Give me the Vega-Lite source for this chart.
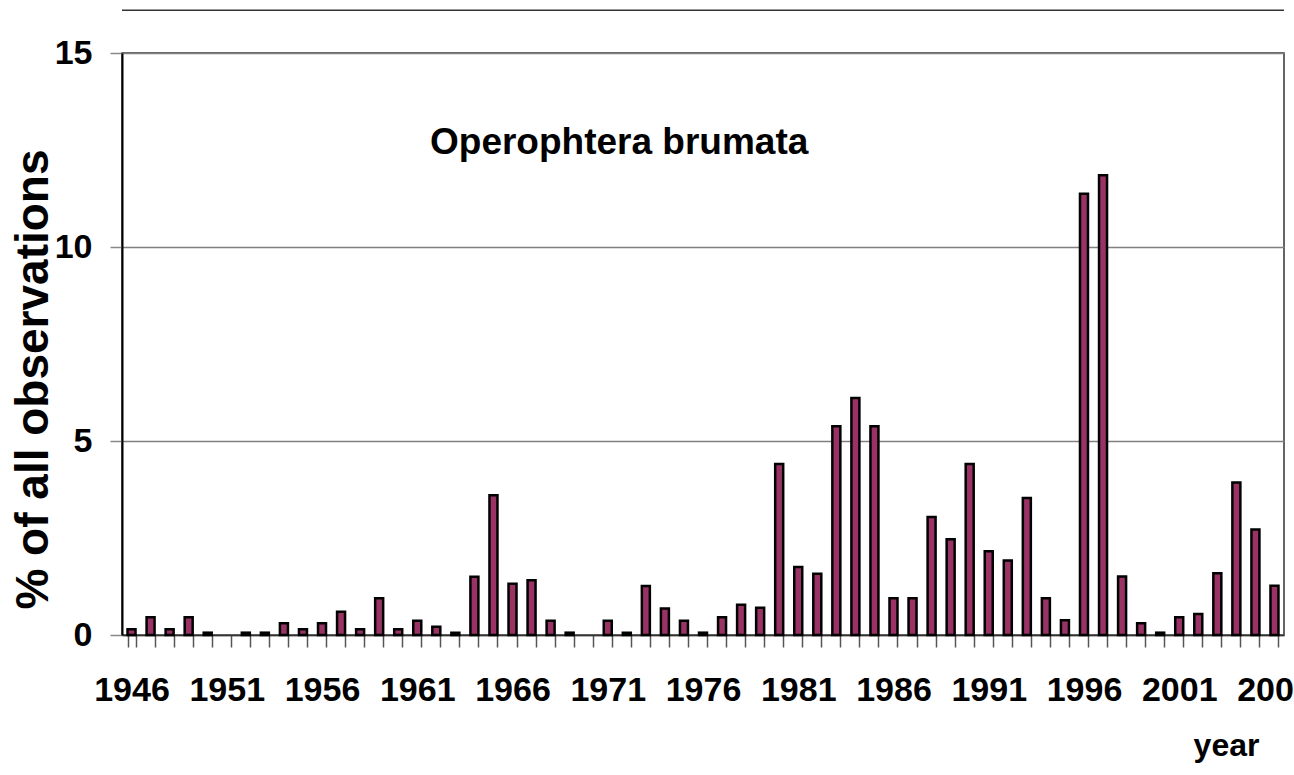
{
  "$schema": "https://vega.github.io/schema/vega-lite/v6.json",
  "width": 1162,
  "height": 582,
  "autosize": {"type": "none"},
  "padding": {"left": 122, "top": 53, "right": 10, "bottom": 140},
  "background": "white",
  "config": {"view": {"stroke": "#333333", "strokeWidth": 1.5}, "font": "Liberation Sans"},
  "title": {"text": "Operophtera brumata", "anchor": "start", "frame": "group", "dx": 308, "dy": 181, "offset": 0, "baseline": "alphabetic", "font": "Liberation Sans", "fontSize": 37, "fontWeight": "bold", "color": "black"},
  "data": {"values": [
    {"year": 1946, "pct": 0.15}, {"year": 1947, "pct": 0.46}, {"year": 1948, "pct": 0.15}, {"year": 1949, "pct": 0.46},
    {"year": 1950, "pct": 0.06}, {"year": 1951, "pct": 0}, {"year": 1952, "pct": 0.06}, {"year": 1953, "pct": 0.06},
    {"year": 1954, "pct": 0.3}, {"year": 1955, "pct": 0.15}, {"year": 1956, "pct": 0.3}, {"year": 1957, "pct": 0.6},
    {"year": 1958, "pct": 0.15}, {"year": 1959, "pct": 0.95}, {"year": 1960, "pct": 0.15}, {"year": 1961, "pct": 0.37},
    {"year": 1962, "pct": 0.21}, {"year": 1963, "pct": 0.06}, {"year": 1964, "pct": 1.5}, {"year": 1965, "pct": 3.6},
    {"year": 1966, "pct": 1.32}, {"year": 1967, "pct": 1.41}, {"year": 1968, "pct": 0.37}, {"year": 1969, "pct": 0.06},
    {"year": 1970, "pct": 0}, {"year": 1971, "pct": 0.37}, {"year": 1972, "pct": 0.06}, {"year": 1973, "pct": 1.26},
    {"year": 1974, "pct": 0.68}, {"year": 1975, "pct": 0.37}, {"year": 1976, "pct": 0.06}, {"year": 1977, "pct": 0.46},
    {"year": 1978, "pct": 0.78}, {"year": 1979, "pct": 0.7}, {"year": 1980, "pct": 4.41}, {"year": 1981, "pct": 1.75},
    {"year": 1982, "pct": 1.58}, {"year": 1983, "pct": 5.38}, {"year": 1984, "pct": 6.11}, {"year": 1985, "pct": 5.38},
    {"year": 1986, "pct": 0.95}, {"year": 1987, "pct": 0.95}, {"year": 1988, "pct": 3.04}, {"year": 1989, "pct": 2.47},
    {"year": 1990, "pct": 4.41}, {"year": 1991, "pct": 2.16}, {"year": 1992, "pct": 1.92}, {"year": 1993, "pct": 3.53},
    {"year": 1994, "pct": 0.95}, {"year": 1995, "pct": 0.38}, {"year": 1996, "pct": 11.37}, {"year": 1997, "pct": 11.85},
    {"year": 1998, "pct": 1.51}, {"year": 1999, "pct": 0.3}, {"year": 2000, "pct": 0.06}, {"year": 2001, "pct": 0.46},
    {"year": 2002, "pct": 0.54}, {"year": 2003, "pct": 1.59}, {"year": 2004, "pct": 3.93}, {"year": 2005, "pct": 2.72},
    {"year": 2006, "pct": 1.27}
  ]},
  "layer": [
    {
      "mark": {"type": "bar", "fill": "#993366", "stroke": "black", "strokeWidth": 2.5},
      "encoding": {
        "x": {
          "field": "year", "type": "ordinal",
          "scale": {"paddingInner": 0.58, "paddingOuter": 0.29},
          "axis": {
            "title": "year", "titleFont": "Liberation Sans", "titleFontSize": 32, "titleFontWeight": "bold", "titleColor": "black",
            "titleX": 1104, "titleY": 120, "titleAlign": "center", "titleBaseline": "alphabetic",
            "labelExpr": "(datum.value - 1946) % 5 == 0 ? datum.label : ''",
            "labelAngle": 0, "labelFont": "Liberation Sans", "labelFontSize": 34, "labelFontWeight": "bold", "labelColor": "black",
            "labelPadding": 26, "labelOverlap": false, "labelBound": false, "labelFlush": false,
            "tickBand": "extent", "tickSize": 12, "tickColor": "#555555", "tickWidth": 1.5,
            "domainColor": "#333333", "domainWidth": 1.5, "grid": false
          }
        },
        "y": {
          "field": "pct", "type": "quantitative",
          "scale": {"domain": [0, 15], "nice": false},
          "axis": {
            "values": [0, 5, 10, 15],
            "title": "% of all observations", "titleFont": "Liberation Sans", "titleFontSize": 46, "titleFontWeight": "bold", "titleColor": "black",
            "titleX": -75, "titleY": 326, "titleAngle": -90, "titleAlign": "center", "titleBaseline": "alphabetic",
            "labelFont": "Liberation Sans", "labelFontSize": 34, "labelFontWeight": "bold", "labelColor": "black", "labelPadding": 18,
            "tickSize": 12, "tickColor": "#888888", "tickWidth": 1.5,
            "domainColor": "black", "domainWidth": 2,
            "grid": true, "gridColor": "#808080", "gridWidth": 1.5
          }
        },
        "strokeOpacity": {"condition": {"test": "datum.pct == 0", "value": 0}, "value": 1}
      }
    },
    {
      "data": {"values": [{}]},
      "mark": {"type": "rule", "stroke": "#333333", "strokeWidth": 1.5, "clip": false},
      "encoding": {"y": {"datum": 16.1, "type": "quantitative", "scale": {"domain": [0, 15], "nice": false}}}
    }
  ]
}
